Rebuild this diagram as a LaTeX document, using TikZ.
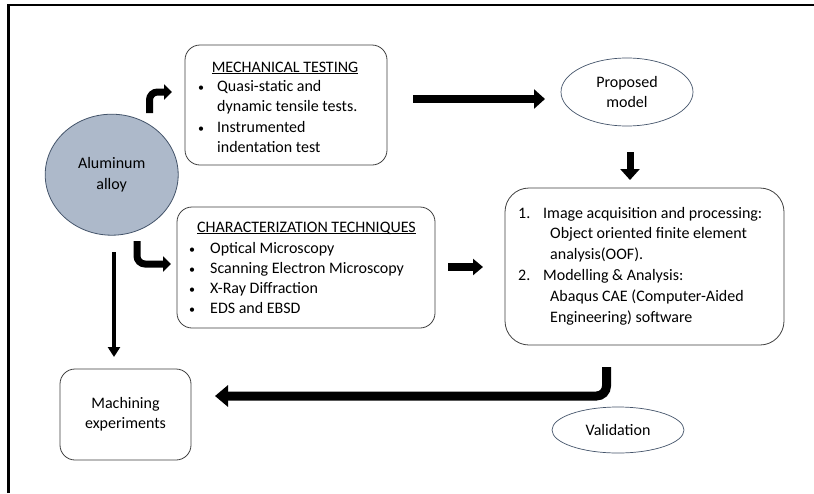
\documentclass[tikz,border=0pt]{standalone}
\usepackage{fontspec}
\setmainfont{Carlito}
\usetikzlibrary{arrows.meta,shapes.geometric}
\definecolor{legierung}{HTML}{ADB9CA}
\definecolor{randblau}{HTML}{44546A}
\definecolor{kasten}{HTML}{404040}
\newcommand{\ustrich}[1]{\underline{\smash{#1}}}
\newcommand{\punkt}{{\fontsize{12}{12}\selectfont •}}

\begin{document}
\begin{tikzpicture}[x=1pt, y=-1pt,
	every node/.style={font=\fontsize{16}{20.3}\selectfont, inner sep=0pt},
	box/.style={rectangle, draw=kasten, line width=0.8pt, rounded corners=15pt, align=center},
	oval/.style={ellipse, draw=randblau, line width=0.7pt, align=center},
	fat/.style={line width=8pt, -{Triangle[length=11pt, width=19pt]}},
	slim/.style={line width=4.5pt, -{Triangle[length=10pt, width=12pt]}},
	knick/.style={line width=7pt, rounded corners=8pt, -{Triangle[length=8pt, width=15pt]}}]
	\useasboundingbox (0,0) rectangle (814,493); % Rand wie im Original
	\fill[white] (0,0) rectangle (814,493);
	\draw[line width=2.7pt] (8.7,493) -- (8.7,5) -- (814,5);
	
	% Knoten
	\node[ellipse, fill=legierung, draw=randblau, line width=0.8pt, minimum width=133pt, minimum height=121pt, align=center] (alloy) at (111.7,174.7) {Aluminum\\alloy};
	\node[box, minimum width=202pt, minimum height=120pt] (mech) at (286,105) {};
	\node[box, minimum width=258pt, minimum height=121pt] (charac) at (306,267.5) {};
	\node[box, rounded corners=24pt, minimum width=279pt, minimum height=157pt] (model) at (644.5,266.5) {};
	\node[box, minimum width=131pt, minimum height=91pt] (mach) at (125.5,414.5) {Machining\\experiments};
	\node[oval, minimum width=132pt, minimum height=68pt] (prop) at (627,92) {Proposed\\model};
	\node[oval, minimum width=132pt, minimum height=46pt] (valid) at (618,430) {Validation};
	
	% Texte in den Kaesten
	\node[anchor=base] (mechhead) at (285,72) {\ustrich{MECHANICAL TESTING}};
	\node[anchor=base west] (mechlist) at (198,91.5) {\begin{tabular}[t]{@{}p{19pt}@{}l@{}}
		\punkt & Quasi-static and\\
		       & dynamic tensile tests.\\
		\punkt & Instrumented\\
		       & indentation test
	\end{tabular}};
	\node[anchor=base] (charhead) at (306.5,232) {\ustrich{CHARACTERIZATION TECHNIQUES}};
	\node[anchor=base west] (charlist) at (189,253) {\begin{tabular}[t]{@{}p{21pt}@{}l@{}}
		\punkt & Optical Microscopy\\
		\punkt & Scanning Electron Microscopy\\
		\punkt & X-Ray Diffraction\\
		\punkt & EDS and EBSD
	\end{tabular}};
	\node[anchor=base west, font=\fontsize{16}{20.8}\selectfont] (modellist) at (518,218) {\begin{tabular}[t]{@{}p{25pt}@{}l@{}}
		1. & Image acquisition and processing:\\
		   & \hspace*{7pt}Object oriented finite element\\
		   & \hspace*{7pt}analysis(OOF).\\
		2. & Modelling \& Analysis:\\
		   & \hspace*{7pt}Abaqus CAE (Computer-Aided\\
		   & \hspace*{7pt}Engineering) software
	\end{tabular}};
	
	% Pfeile
	\coordinate (m1) at (413,99);
	\coordinate (m2) at (545,99);
	\coordinate (p1) at (630,152);
	\coordinate (p2) at (630,180);
	\coordinate (c1) at (448,267);
	\coordinate (c2) at (483,267);
	\coordinate (v1) at (606.5,367);
	\coordinate (v2) at (215,396);
	\coordinate (a1) at (149.5,113);
	\coordinate (a2) at (172,92);
	\coordinate (a3) at (137,241);
	\coordinate (a4) at (171,264);
	\coordinate (a5) at (114,252);
	\coordinate (a6) at (114,357);
	
	\draw[fat] (m1) -- (m2);
	\draw[fat, line width=7pt] (p1) -- (p2);
	\draw[fat, -{Triangle[length=10pt, width=16pt]}] (c1) -- (c2);
	\draw[fat, line width=9pt, rounded corners=10pt, -{Triangle[length=13pt, width=21pt]}] (v1) |- (v2);
	\draw[knick] (a1) |- (a2);
	\draw[knick] (a3) |- (a4);
	\draw[slim] (a5) -- (a6);
	
	%\draw[help lines, step=50] (0,0) grid (814,493);
\end{tikzpicture}
\end{document}
